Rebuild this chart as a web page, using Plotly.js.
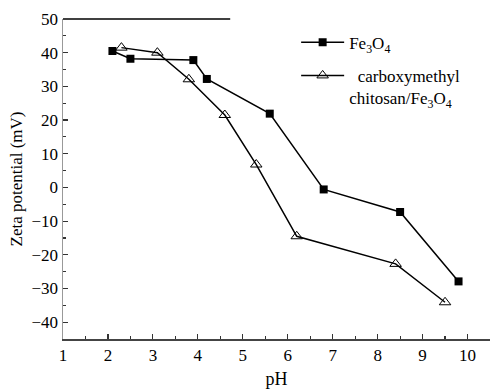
<!DOCTYPE html>
<html>
<head>
<meta charset="utf-8">
<script src="https://cdn.plot.ly/plotly-3.0.1.min.js"></script>
<style>html,body{margin:0;padding:0;background:#fff;}#chart{width:490px;height:389px;}</style>
</head>
<body>
<div id="chart"></div>
<script>
const fe3o4_pH = [2.1, 2.5, 3.9, 4.2, 5.6, 6.8, 8.5, 9.8];
const fe3o4_zeta = [40.5, 38.2, 37.8, 32.2, 21.9, -0.6, -7.3, -27.9];
const cmc_pH = [2.3, 3.1, 3.8, 4.6, 5.3, 6.2, 8.4, 9.5];
const cmc_zeta = [41.5, 40.0, 32.1, 21.5, 6.8, -14.5, -22.7, -34.1];
const seriesNames = ["Fe<sub>3</sub>O<sub>4</sub>", "  carboxymethyl<br>chitosan/Fe<sub>3</sub>O<sub>4</sub>"];

const FAM = "Liberation Serif";
function f(size) { return {family: FAM, size: size, color: "#000"}; }

const traces = [
  {x: fe3o4_pH, y: fe3o4_zeta, name: seriesNames[0], mode: "lines+markers", legendgroup: "a",
   line: {color: "#000", width: 1.5},
   marker: {symbol: "square", size: 8, color: "#000", line: {color: "#000", width: 0}}},
  {x: cmc_pH, y: cmc_zeta, name: seriesNames[1], mode: "lines+markers", legendgroup: "b",
   line: {color: "#000", width: 1.5},
   marker: {symbol: "triangle-up-open", size: 10, color: "#000", line: {color: "#000", width: 1}}}
];

const layout = {
  width: 490, height: 389,
  margin: {l: 63, r: 0, t: 19, b: 50},
  paper_bgcolor: "#fff", plot_bgcolor: "#fff",
  font: f(16),
  showlegend: true,
  legend: {x: 0.546, y: 0.982, xanchor: "left", yanchor: "top", bgcolor: "rgba(0,0,0,0)",
           font: f(17), traceorder: "grouped", tracegroupgap: 8, valign: "top", itemwidth: 43},
  xaxis: {
    range: [1, 10.5], dtick: 1, tick0: 1, ticks: "inside", ticklen: 5, tickwidth: 1.2, tickcolor: "#333",
    minor: {dtick: 0.5, ticks: "inside", ticklen: 3, tickcolor: "#333", tickwidth: 1.2},
    showline: true, linecolor: "#444", linewidth: 2, showgrid: false, zeroline: false,
    tickfont: f(17),
    title: {text: "pH", font: f(18), standoff: 8}
  },
  yaxis: {
    range: [-45, 50], dtick: 10, tick0: 0, ticks: "inside", ticklen: 5, tickwidth: 1.2, tickcolor: "#333",
    minor: {dtick: 5, ticks: "inside", ticklen: 3, tickcolor: "#333", tickwidth: 1.2},
    showline: true, linecolor: "#999", linewidth: 1.5, showgrid: false, zeroline: false,
    tickfont: f(17),
    title: {text: "Zeta potential (mV)", font: f(17), standoff: 4}
  },
  shapes: [
    {type: "line", xref: "x", yref: "paper", x0: 1, x1: 4.72, y0: 1, y1: 1, line: {color: "#000", width: 1.3}}
  ]
};

Plotly.newPlot("chart", traces, layout, {displayModeBar: false, staticPlot: true});
</script>
</body>
</html>
